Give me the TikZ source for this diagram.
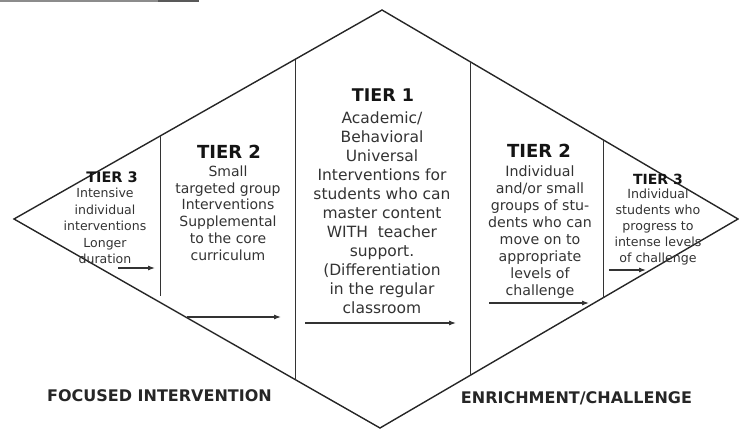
\documentclass[tikz,border=0pt]{standalone}
\usepackage{fontspec}
\setmainfont{DejaVu Sans}
\usetikzlibrary{arrows.meta}
\begin{document}
\begin{tikzpicture}[x=1pt,y=-1pt,
  edge/.style={line width=1.4pt, draw=black!85, line join=miter},
  divider/.style={line width=1pt, draw=black!80},
  flow/.style={line width=1.1pt, draw=black!80, -{Latex[length=7pt,width=5pt]}},
  head/.style={text=black!92, inner sep=0pt},
  body/.style={align=center, text=black!80, inner sep=0pt},
  bottomlabel/.style={font=\bfseries\fontsize{16}{18}\selectfont, text=black!85, inner sep=0pt}]
\useasboundingbox (0,0) rectangle (739,430);
% cropped underline fragment at the top
\fill[black!45] (0,0) rectangle (158,2.5);
\fill[black!65] (158,0) rectangle (199,2.5);
% diamond
\coordinate (top) at (382,10);
\coordinate (left) at (14,219);
\coordinate (bottom) at (380,428);
\coordinate (right) at (738,219);
\draw[edge] (left) -- (top) -- (right) -- (bottom) -- cycle;
% dividers
\coordinate (d1t) at (160,136); \coordinate (d1b) at (160,296);
\coordinate (d2t) at (295,60);  \coordinate (d2b) at (295,380);
\coordinate (d3t) at (470,62);  \coordinate (d3b) at (470,376);
\coordinate (d4t) at (603,140); \coordinate (d4b) at (603,298);
\draw[divider] (d1t) -- (d1b);
\draw[divider] (d2t) -- (d2b);
\draw[divider] (d3t) -- (d3b);
\draw[divider] (d4t) -- (d4b);
% headings
\node[head, font=\bfseries\fontsize{14.5}{16}\selectfont] (h3l) at (112,177) {TIER 3};
\node[head, font=\bfseries\fontsize{18}{20}\selectfont] (h2l) at (229,152) {TIER 2};
\node[head, font=\bfseries\fontsize{17.5}{20}\selectfont] (h1) at (383,95) {TIER 1};
\node[head, font=\bfseries\fontsize{18}{20}\selectfont] (h2r) at (539,151) {TIER 2};
\node[head, font=\bfseries\fontsize{14}{16}\selectfont] (h3r) at (658,179) {TIER 3};
% bodies
\node[body, font=\fontsize{12.5}{16.5}\selectfont] (b3l) at (105,226)
  {Intensive\\individual\\interventions\\Longer\\duration};
\node[body, font=\fontsize{14}{16.8}\selectfont] (b2l) at (228,213)
  {Small\\targeted group\\Interventions\\Supplemental\\to the core\\curriculum};
\node[body, font=\fontsize{15.5}{19}\selectfont] (b1) at (382,213)
  {Academic/\\Behavioral\\Universal\\Interventions for\\students who can\\master content\\WITH\ \ teacher\\support.\\(Differentiation\\in the regular\\classroom};
\node[body, font=\fontsize{14.2}{16.9}\selectfont] (b2r) at (540,232)
  {Individual\\and/or small\\groups of stu-\\dents who can\\move on to\\appropriate\\levels of\\challenge};
\node[body, font=\fontsize{12.6}{16}\selectfont] (b3r) at (658,227)
  {Individual\\students who\\progress to\\intense levels\\of challenge};
% arrows
\coordinate (a1s) at (118,268); \coordinate (a1e) at (155,268);
\coordinate (a2s) at (187,317); \coordinate (a2e) at (281,317);
\coordinate (a3s) at (305,323); \coordinate (a3e) at (456,323);
\coordinate (a4s) at (489,303); \coordinate (a4e) at (589,303);
\coordinate (a5s) at (609,270); \coordinate (a5e) at (646,270);
\draw[flow] (a1s) -- (a1e);
\draw[flow] (a2s) -- (a2e);
\draw[flow] (a3s) -- (a3e);
\draw[flow] (a4s) -- (a4e);
\draw[flow] (a5s) -- (a5e);
% bottom labels
\node[bottomlabel] (focus) at (159.5,396) {FOCUSED INTERVENTION};
\node[bottomlabel] (enrich) at (576.5,398) {ENRICHMENT/CHALLENGE};
\end{tikzpicture}
\end{document}
